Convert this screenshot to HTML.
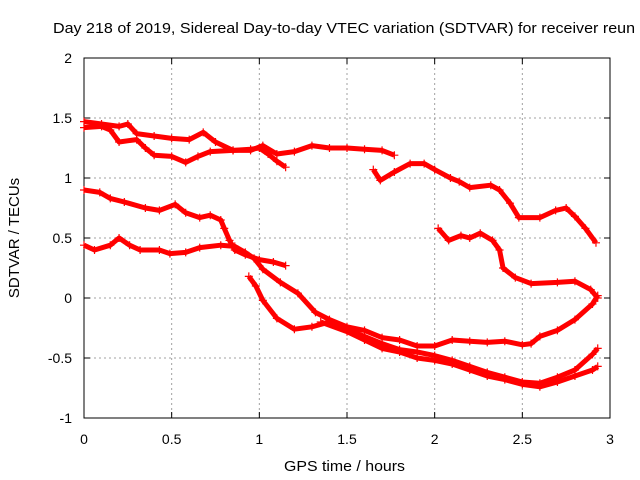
<!DOCTYPE html>
<html><head><meta charset="utf-8"><style>
body{margin:0;background:#fff;}
svg{display:block;font-family:"Liberation Sans",sans-serif;}
</style></head><body>
<svg id="chart" width="640" height="480" viewBox="0 0 640 480" xmlns="http://www.w3.org/2000/svg">
<rect width="640" height="480" fill="#fff"/>
<text x="53" y="33" font-size="15" textLength="582" lengthAdjust="spacingAndGlyphs" fill="#000">Day 218 of 2019, Sidereal Day-to-day VTEC variation (SDTVAR) for receiver reun</text>
<g id="grid"></g>
<g id="axes"></g>
<g id="series"></g>
<text x="284" y="471" font-size="15" textLength="121" lengthAdjust="spacingAndGlyphs">GPS time / hours</text>
<text transform="translate(19,238) rotate(-90)" font-size="15" text-anchor="middle">SDTVAR / TECUs</text>
</svg>
<script>
const xTicks=[0,0.5,1,1.5,2,2.5,3];
const xTickLabels=["0","0.5","1","1.5","2","2.5","3"];
const yTicks=[-1,-0.5,0,0.5,1,1.5,2];
const yTickLabels=["-1","-0.5","0","0.5","1","1.5","2"];
const track1=[[0,1.47],[0.1,1.45],[0.2,1.43],[0.25,1.45],[0.3,1.37],[0.4,1.35],[0.5,1.33],[0.6,1.32],[0.68,1.38],[0.75,1.3],[0.85,1.23],[0.95,1.23],[1.02,1.27],[1.1,1.2],[1.2,1.22],[1.3,1.27],[1.4,1.25],[1.5,1.25],[1.6,1.24],[1.7,1.23],[1.77,1.19]];
const track2=[[0,1.42],[0.1,1.43],[0.15,1.4],[0.2,1.3],[0.3,1.32],[0.35,1.25],[0.4,1.19],[0.5,1.18],[0.58,1.13],[0.65,1.18],[0.72,1.22],[0.85,1.23],[0.95,1.24],[1.0,1.25],[1.05,1.2],[1.1,1.14],[1.15,1.09]];
const track3=[[1.65,1.07],[1.69,0.98],[1.77,1.05],[1.86,1.12],[1.94,1.12],[2.0,1.07],[2.09,1.0],[2.14,0.97],[2.2,0.92],[2.32,0.94],[2.37,0.9],[2.43,0.79],[2.48,0.67],[2.6,0.67],[2.69,0.73],[2.75,0.75],[2.8,0.68],[2.86,0.58],[2.92,0.46]];
const track4=[[2.02,0.58],[2.08,0.48],[2.15,0.52],[2.2,0.5],[2.26,0.54],[2.33,0.48],[2.37,0.4],[2.39,0.25],[2.46,0.17],[2.55,0.12],[2.7,0.13],[2.8,0.14],[2.89,0.07],[2.93,0.0]];
const track5=[[0,0.9],[0.09,0.88],[0.15,0.83],[0.23,0.8],[0.35,0.75],[0.43,0.73],[0.52,0.78],[0.58,0.71],[0.66,0.67],[0.72,0.69],[0.78,0.65],[0.8,0.58],[0.83,0.48],[0.86,0.4],[0.92,0.36],[1.0,0.32],[1.08,0.3],[1.15,0.27]];
const track6=[[0,0.44],[0.06,0.4],[0.15,0.44],[0.2,0.5],[0.26,0.44],[0.32,0.4],[0.43,0.4],[0.49,0.37],[0.58,0.38],[0.66,0.42],[0.78,0.44],[0.86,0.43],[0.92,0.38],[0.97,0.33],[1.02,0.24],[1.12,0.13],[1.22,0.04],[1.32,-0.12],[1.4,-0.18],[1.5,-0.24],[1.6,-0.27],[1.7,-0.33],[1.8,-0.35],[1.9,-0.4],[2.0,-0.4],[2.1,-0.35],[2.2,-0.36],[2.3,-0.37],[2.4,-0.36],[2.5,-0.39],[2.55,-0.38],[2.6,-0.32],[2.7,-0.27],[2.8,-0.18],[2.9,-0.05],[2.93,0.02]];
const track7=[[0.94,0.18],[0.98,0.1],[1.02,-0.02],[1.1,-0.17],[1.2,-0.26],[1.3,-0.24],[1.4,-0.2],[1.5,-0.26],[1.6,-0.32],[1.7,-0.38],[1.8,-0.43],[1.9,-0.45],[2.0,-0.48],[2.1,-0.52],[2.2,-0.57],[2.3,-0.62],[2.4,-0.66],[2.5,-0.7],[2.6,-0.71],[2.7,-0.66],[2.8,-0.6],[2.9,-0.47],[2.93,-0.42]];
const track8=[[1.35,-0.2],[1.5,-0.28],[1.6,-0.35],[1.7,-0.42],[1.8,-0.45],[1.9,-0.5],[2.0,-0.52],[2.1,-0.55],[2.2,-0.6],[2.3,-0.65],[2.4,-0.68],[2.5,-0.72],[2.6,-0.74],[2.7,-0.7],[2.8,-0.65],[2.9,-0.6],[2.93,-0.57]];
const tracks=[track1,track2,track3,track4,track5,track6,track7,track8];

const L=84,R=610,T=58,B=418;
const xs=v=>L+(v-0)/(3-0)*(R-L);
const ys=v=>B-(v+1)/(2+1)*(B-T);
const NS="http://www.w3.org/2000/svg";
function mk(tag,attrs,parent){const e=document.createElementNS(NS,tag);for(const k in attrs)e.setAttribute(k,attrs[k]);parent.appendChild(e);return e;}
const grid=document.getElementById('grid'),axes=document.getElementById('axes'),ser=document.getElementById('series');
xTicks.forEach((t,i)=>{
  const x=xs(t);
  if(i>0&&i<xTicks.length-1){const g=mk('line',{x1:x,x2:x,y1:T,y2:B,stroke:'#a0a0a0','stroke-dasharray':'2,3'},grid);
  
  }
  mk('line',{x1:x,x2:x,y1:B,y2:B-6,stroke:'#000'},axes);
  mk('line',{x1:x,x2:x,y1:T,y2:T+6,stroke:'#000'},axes);
  const tx=mk('text',{x:x,y:444,'font-size':14,'text-anchor':'middle'},axes);tx.textContent=xTickLabels[i];
  
  
});
yTicks.forEach((t,i)=>{
  const y=ys(t);
  if(i>0&&i<yTicks.length-1){const g=mk('line',{x1:L,x2:R,y1:y,y2:y,stroke:'#a0a0a0','stroke-dasharray':'2,3'},grid);
  
  }
  mk('line',{x1:L,x2:L+6,y1:y,y2:y,stroke:'#000'},axes);
  mk('line',{x1:R,x2:R-6,y1:y,y2:y,stroke:'#000'},axes);
  const tx=mk('text',{x:72,y:y+5,'font-size':14,'text-anchor':'end'},axes);tx.textContent=yTickLabels[i];
  
  
});
const fr=mk('rect',{x:L,y:T,width:R-L,height:B-T,fill:'none',stroke:'#000'},axes);


tracks.forEach((tr,k)=>{
  const pl=mk('polyline',{points:tr.map(p=>xs(p[0])+','+ys(p[1])).join(' '),fill:'none',stroke:'#f00','stroke-width':5,'stroke-linejoin':'round'},ser);
  
  
  tr.forEach(p=>{
    const x=xs(p[0]),y=ys(p[1]);
    const m=mk('path',{d:`M${x-4},${y}H${x+4}M${x},${y-4}V${y+4}`,stroke:'#f00','stroke-width':1.2},ser);
    
    
  });
});
</script>
</body></html>
